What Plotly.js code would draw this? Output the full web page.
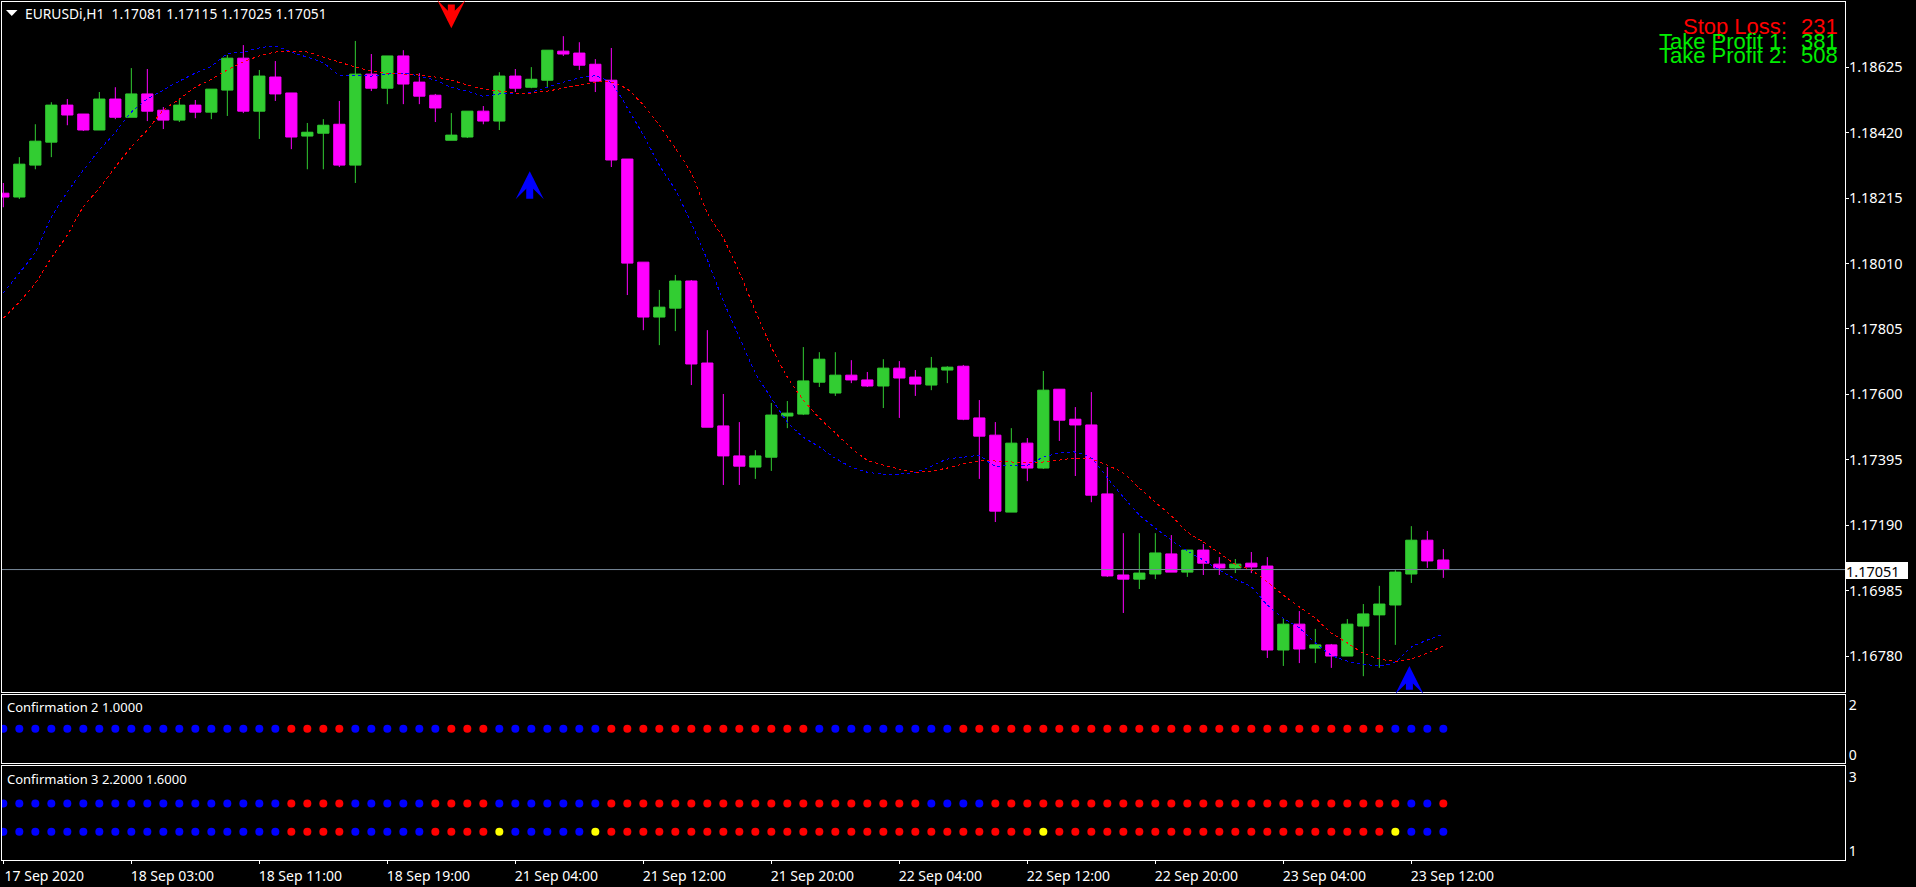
<!DOCTYPE html>
<html><head><meta charset="utf-8">
<script src="https://cdn.plot.ly/plotly-3.0.1.min.js"></script>
<style>html,body{margin:0;padding:0;background:#000;overflow:hidden}
.scatterlayer .js-line{shape-rendering:crispEdges}</style>
</head><body><div id="chart" style="width:1916px;height:887px"></div>
<script>
const open=[1.18230,1.18218,1.18318,1.18390,1.18506,1.18478,1.18428,1.18525,1.18468,1.18541,1.18490,1.18459,1.18506,1.18484,1.18553,1.18653,1.18487,1.18594,1.18544,1.18409,1.18418,1.18446,1.18318,1.18603,1.18559,1.18660,1.18578,1.18537,1.18396,1.18406,1.18487,1.18456,1.18597,1.18562,1.18584,1.18675,1.18669,1.18634,1.18584,1.18337,1.18014,1.17842,1.17870,1.17955,1.17698,1.17501,1.17407,1.17372,1.17403,1.17532,1.17538,1.17638,1.17604,1.17660,1.17645,1.17626,1.17682,1.17654,1.17629,1.17676,1.17688,1.17526,1.17472,1.17231,1.17447,1.17369,1.17616,1.17522,1.17504,1.17288,1.17034,1.17021,1.17037,1.17100,1.17043,1.17112,1.17068,1.17056,1.17071,1.17062,1.16799,1.16880,1.16805,1.16815,1.16780,1.16874,1.16909,1.16940,1.17037,1.17143,1.17081];
const close=[1.18218,1.18321,1.18393,1.18506,1.18475,1.18428,1.18525,1.18468,1.18541,1.18487,1.18459,1.18506,1.18484,1.18556,1.18653,1.18487,1.18597,1.18541,1.18406,1.18421,1.18443,1.18318,1.18603,1.18559,1.18660,1.18572,1.18534,1.18497,1.18412,1.18487,1.18456,1.18597,1.18559,1.18587,1.18678,1.18666,1.18631,1.18581,1.18334,1.18011,1.17842,1.17873,1.17955,1.17695,1.17497,1.17407,1.17375,1.17407,1.17535,1.17541,1.17642,1.17710,1.17660,1.17645,1.17626,1.17682,1.17651,1.17632,1.17682,1.17685,1.17522,1.17469,1.17234,1.17447,1.17369,1.17613,1.17519,1.17504,1.17284,1.17031,1.17021,1.17040,1.17103,1.17043,1.17112,1.17071,1.17056,1.17068,1.17059,1.16799,1.16880,1.16802,1.16815,1.16780,1.16880,1.16912,1.16943,1.17043,1.17143,1.17078,1.17051];
const high=[1.18262,1.18343,1.18446,1.18515,1.18525,1.18478,1.18547,1.18562,1.18622,1.18619,1.18500,1.18525,1.18522,1.18556,1.18663,1.18694,1.18616,1.18644,1.18544,1.18450,1.18462,1.18519,1.18707,1.18666,1.18660,1.18678,1.18606,1.18541,1.18481,1.18487,1.18503,1.18609,1.18619,1.18625,1.18678,1.18722,1.18703,1.18650,1.18685,1.18337,1.18014,1.17927,1.17974,1.17958,1.17801,1.17601,1.17513,1.17425,1.17573,1.17579,1.17748,1.17732,1.17732,1.17707,1.17670,1.17710,1.17704,1.17676,1.17717,1.17688,1.17692,1.17582,1.17513,1.17494,1.17463,1.17673,1.17616,1.17560,1.17607,1.17372,1.17165,1.17165,1.17165,1.17159,1.17112,1.17131,1.17090,1.17084,1.17106,1.17090,1.16899,1.16921,1.16865,1.16818,1.16896,1.16943,1.17000,1.17049,1.17187,1.17172,1.17115];
const low=[1.18186,1.18212,1.18305,1.18343,1.18443,1.18425,1.18428,1.18462,1.18468,1.18456,1.18431,1.18453,1.18465,1.18462,1.18472,1.18481,1.18400,1.18519,1.18368,1.18305,1.18305,1.18312,1.18262,1.18550,1.18509,1.18509,1.18509,1.18453,1.18396,1.18403,1.18446,1.18428,1.18547,1.18559,1.18562,1.18660,1.18616,1.18547,1.18312,1.17911,1.17801,1.17754,1.17798,1.17629,1.17497,1.17316,1.17316,1.17335,1.17360,1.17494,1.17535,1.17623,1.17595,1.17635,1.17623,1.17557,1.17526,1.17595,1.17613,1.17635,1.17519,1.17335,1.17200,1.17231,1.17328,1.17366,1.17454,1.17344,1.17262,1.17028,1.16915,1.16990,1.17021,1.17043,1.17028,1.17034,1.17034,1.17040,1.17040,1.16774,1.16749,1.16758,1.16758,1.16743,1.16780,1.16717,1.16743,1.16815,1.17009,1.17056,1.17025];
const maFast=[1.17917,1.17980,1.18045,1.18155,1.18234,1.18302,1.18365,1.18421,1.18484,1.18525,1.18553,1.18581,1.18606,1.18628,1.18666,1.18672,1.18685,1.18691,1.18672,1.18656,1.18638,1.18600,1.18600,1.18597,1.18603,1.18606,1.18597,1.18584,1.18562,1.18550,1.18534,1.18541,1.18541,1.18547,1.18562,1.18578,1.18591,1.18597,1.18575,1.18497,1.18412,1.18318,1.18240,1.18136,1.18021,1.17892,1.17779,1.17667,1.17588,1.17513,1.17466,1.17435,1.17400,1.17372,1.17356,1.17350,1.17350,1.17356,1.17375,1.17397,1.17403,1.17407,1.17375,1.17378,1.17378,1.17403,1.17416,1.17419,1.17400,1.17338,1.17278,1.17222,1.17181,1.17143,1.17109,1.17081,1.17049,1.17021,1.16996,1.16940,1.16899,1.16868,1.16821,1.16783,1.16764,1.16755,1.16749,1.16761,1.16808,1.16830,1.16849];
const maSlow=[1.17839,1.17889,1.17948,1.18027,1.18099,1.18187,1.18246,1.18312,1.18375,1.18428,1.18490,1.18525,1.18562,1.18587,1.18616,1.18641,1.18660,1.18672,1.18675,1.18672,1.18656,1.18641,1.18625,1.18613,1.18606,1.18603,1.18600,1.18594,1.18584,1.18569,1.18556,1.18550,1.18544,1.18544,1.18550,1.18559,1.18569,1.18578,1.18578,1.18556,1.18506,1.18443,1.18371,1.18293,1.18168,1.18089,1.17983,1.17861,1.17748,1.17654,1.17582,1.17526,1.17479,1.17432,1.17394,1.17378,1.17366,1.17356,1.17360,1.17369,1.17382,1.17391,1.17391,1.17388,1.17385,1.17388,1.17394,1.17400,1.17397,1.17378,1.17353,1.17306,1.17262,1.17219,1.17169,1.17137,1.17103,1.17068,1.17049,1.17012,1.16971,1.16934,1.16899,1.16852,1.16821,1.16789,1.16771,1.16764,1.16771,1.16789,1.16812];
// per-bar state: b = blue, r = red, y = yellow
const conf2State="bbbbbbbbbb"+"bbbbbbbbrr"+"rrbbbbbbrr"+"rbbbbbbbrr"+"rrrrrrrrrr"+"rbbbbbbbbb"+"rrrrrrrrrr"+"rrrrrrrrrr"+"rrrrrrrbbbb";
const conf3UpperState="bbbbbbbbbb"+"bbbbbbbbrr"+"rrbbbbbrrr"+"rbbbbbbbrr"+"rrrrrrrrrr"+"rrrrrrrrbb"+"bbrrrrrrrr"+"rrrrrrrrrr"+"rrrrrrrrbbr";
const conf3LowerState="bbbbbbbbbb"+"bbbbbbbbrr"+"rrbbbbbrrr"+"rybbbbbyrr"+"rrrrrrrrrr"+"rrrrrrrrrr"+"rrrrryrrrr"+"rrrrrrrrrr"+"rrrrrrrybbb";
const conf2Value=1.0, conf3UpperValue=2.2, conf3LowerValue=1.6;
const timeTickBars=[0,8,16,24,32,40,48,56,64,72,80,88];
const timeTickLabels=["17 Sep 2020","18 Sep 03:00","18 Sep 11:00","18 Sep 19:00","21 Sep 04:00","21 Sep 12:00","21 Sep 20:00","22 Sep 04:00","22 Sep 12:00","22 Sep 20:00","23 Sep 04:00","23 Sep 12:00"];
const priceTicks=[1.18625,1.18420,1.18215,1.18010,1.17805,1.17600,1.17395,1.17190,1.16985,1.16780];
const priceTickLabels=["1.18625","1.18420","1.18215","1.18010","1.17805","1.17600","1.17395","1.17190","1.16985","1.16780"];
const lastPrice=1.17051;
const arrowBars=[28,32.9,87.88];
const arrowTip=[1.18747,1.18299,1.16749];
const arrowTail=[1.18826,1.18208,1.16670];
const arrowColors=["#ff0000","#0000ff","#0000ff"];

const W=1916,H=887,L=2,R=1845,T=2,B=860;
const px=x=>(x-L)/(R-L), py=y=>(B-y)/(B-T);
const bars=open.map((_,i)=>i);
const xRange=[-0.083,115.104];
const stateColor={b:"#0000ff",r:"#ff0000",y:"#ffff00"};
const dots=(state,val,ax,yax)=>({type:"scatter",mode:"markers",x:bars,y:bars.map(()=>val),xaxis:ax,yaxis:yax,hoverinfo:"skip",
  marker:{size:8,color:state.split("").map(c=>stateColor[c]),line:{width:0}}});
const traces=[
 {type:"candlestick",x:bars,open,high,low,close,xaxis:"x",yaxis:"y",whiskerwidth:0,hoverinfo:"skip",
  increasing:{line:{color:"#32cd32",width:1},fillcolor:"#32cd32"},
  decreasing:{line:{color:"#ff00ff",width:1},fillcolor:"#ff00ff"}},
 {type:"scatter",mode:"lines",x:bars,y:maFast,xaxis:"x",yaxis:"y",hoverinfo:"skip",line:{color:"#0000ff",width:1,dash:"3px,3px",shape:"spline",smoothing:0.6}},
 {type:"scatter",mode:"lines",x:bars,y:maSlow,xaxis:"x",yaxis:"y",hoverinfo:"skip",line:{color:"#ff0000",width:1,dash:"3px,3px",shape:"spline",smoothing:0.6}},
 dots(conf2State,conf2Value,"x2","y2"),
 dots(conf3UpperState,conf3UpperValue,"x3","y3"),
 dots(conf3LowerState,conf3LowerValue,"x3","y3")
];
const frame={showline:true,linecolor:"#ffffff",linewidth:1,mirror:true,showgrid:false,zeroline:false};
const txt=(text,x,y,size,color,anchor,family)=>({xref:"paper",yref:"paper",x:px(x),y:py(y),text,showarrow:false,xanchor:anchor||"left",yanchor:"middle",
  font:{family:family||"Noto Sans",size,color},borderpad:0,borderwidth:0,align:"left"});
const annotations=[
 txt("EURUSDi,H1\u00a0\u00a01.17081 1.17115 1.17025 1.17051",25,14,13.8,"#ffffff"),
 txt("Confirmation 2 1.0000",7,707,13,"#ffffff"),
 txt("Confirmation 3 2.2000 1.6000",7,779,13,"#ffffff"),
 txt("Stop Loss:",1787,26,22,"#ff0000","right","Liberation Sans"),
 txt("231",1838,26,22,"#ff0000","right","Liberation Sans"),
 txt("Take Profit 1:",1787,41.5,22,"#00ee00","right","Liberation Sans"),
 txt("381",1838,41.5,22,"#00ee00","right","Liberation Sans"),
 txt("Take Profit 2:",1787,56,22,"#00ee00","right","Liberation Sans"),
 txt("508",1838,56,22,"#00ee00","right","Liberation Sans"),
 Object.assign(txt("1.17051",1877,570.5,14.5,"#000000","center"),{bgcolor:"#ffffff",width:62,height:17}),
 ...arrowBars.map((b,i)=>({xref:"x",yref:"y",axref:"x",ayref:"y",x:b,y:arrowTip[i],ax:b,ay:arrowTail[i],text:"",showarrow:true,
   arrowhead:3,arrowsize:0.67,arrowwidth:7,arrowcolor:arrowColors[i],standoff:0,startstandoff:0}))
];
const layout={
 width:W,height:H,paper_bgcolor:"#000000",plot_bgcolor:"#000000",showlegend:false,hovermode:false,
 margin:{l:L,r:W-R,t:T,b:H-B,pad:0},boxgap:0.3,boxgroupgap:0,
 font:{family:"Noto Sans",color:"#ffffff",size:12},
 xaxis:{...frame,domain:[0,1],range:xRange,anchor:"y",showticklabels:false,ticks:"",rangeslider:{visible:false},type:"linear"},
 xaxis2:{...frame,domain:[0,1],range:xRange,anchor:"y2",showticklabels:false,ticks:"",type:"linear"},
 xaxis3:{...frame,domain:[0,1],range:xRange,anchor:"y3",type:"linear",tickmode:"array",tickvals:timeTickBars,ticktext:timeTickLabels,
   ticks:"outside",ticklen:3,tickwidth:1,tickcolor:"#ffffff",ticklabelshift:41,ticklabelstandoff:0,tickfont:{family:"Noto Sans",size:14,color:"#ffffff"},tickangle:0},
 yaxis:{...frame,domain:[py(691.5),py(T)],range:[1.16669,1.18829],anchor:"x",side:"right",tickmode:"array",tickvals:priceTicks,ticktext:priceTickLabels,
   ticks:"outside",ticklen:3,tickwidth:1,tickcolor:"#ffffff",ticklabelstandoff:-3,tickfont:{family:"Noto Sans",size:14.5,color:"#ffffff"}},
 yaxis2:{...frame,domain:[py(763),py(694.5)],range:[0,2],anchor:"x2",side:"right",tickmode:"array",tickvals:[1.68,0.23],ticktext:["2","0"],
   ticks:"",tickfont:{family:"Noto Sans",size:14,color:"#ffffff"}},
 yaxis3:{...frame,domain:[0,py(766)],range:[1,3],anchor:"x3",side:"right",tickmode:"array",tickvals:[2.766,1.19],ticktext:["3","1"],
   ticks:"",tickfont:{family:"Noto Sans",size:14,color:"#ffffff"}},
 shapes:[
  {type:"line",xref:"x",yref:"y",x0:xRange[0],x1:xRange[1],y0:lastPrice,y1:lastPrice,line:{color:"#778899",width:1}},
  {type:"path",xref:"paper",yref:"paper",line:{width:0},fillcolor:"#ffffff",
   path:`M${px(6)},${py(10)} L${px(17.5)},${py(10)} L${px(11.75)},${py(16)} Z`}
 ],
 annotations
};
Plotly.newPlot("chart",traces,layout,{displayModeBar:false,staticPlot:true});
</script></body></html>
